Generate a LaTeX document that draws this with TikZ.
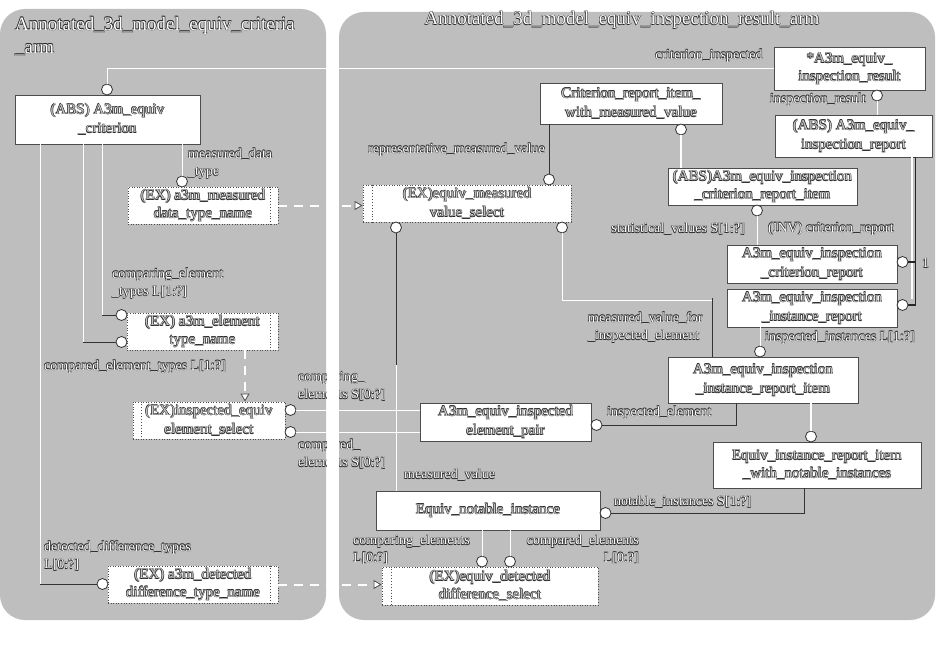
\documentclass[tikz,border=0pt]{standalone}
\usepackage{fontspec}
\setmainfont{Liberation Serif}
\usetikzlibrary{arrows.meta}
\definecolor{panel}{HTML}{BEBEBE}
\definecolor{shade}{HTML}{262626}
\newcommand\shd[3]{\rlap{\kern#1\raisebox{#2}{\textcolor{shade}{#3}}}}
\newcommand\embt[1]{\leavevmode\shd{-0.5pt}{0.5pt}{#1}\shd{-0.5pt}{-0.5pt}{#1}\shd{0.4pt}{0.4pt}{#1}\shd{0.4pt}{-0.4pt}{#1}#1}
\newcommand\bxfont{\fontsize{15}{18.5}\selectfont}
\newcommand\lbfont{\fontsize{14}{17.5}\selectfont}
\newcommand\ttlfont{\fontsize{19}{23}\selectfont}
\tikzset{
  ent/.style={rectangle, draw=black!70, line width=0.6pt, fill=white, text=black!22, font=\bxfont, align=center, inner sep=0pt},
  typ/.style={ent, dotted, line width=0.9pt},
  circ/.style={circle, draw=black!80, fill=white, line width=0.8pt, minimum size=11pt, inner sep=0pt},
  lab/.style={text=white, font=\lbfont, inner sep=0pt},
  ttl/.style={text=white, font=\ttlfont, inner sep=0pt},
  conn/.style={draw=white, line width=1pt},
  dconn/.style={draw=black!80, line width=1pt},
  thk/.style={draw=white, line width=2.6pt},
  dsh/.style={draw=white, line width=2pt, dash pattern=on 9pt off 7pt, -{Triangle[length=8pt, width=9pt, fill=white, color=black!70, line width=0.8pt]}},
  innerline/.style={draw=black!70, dotted, line width=0.9pt}
}
\begin{document}
\begin{tikzpicture}[x=1pt,y=-1pt]
\useasboundingbox (0,0) rectangle (936,658);
% panels
\fill[panel, rounded corners=25pt] (0,9) rectangle (326,620);
\fill[panel, rounded corners=25pt] (339,12) rectangle (935,620);
% titles
\node[ttl, anchor=west, align=left] (ttlA) at (15,36.5) {\embt{Annotated\_3d\_model\_equiv\_criteria}\\\embt{\_arm}};
\node[ttl] (ttlB) at (622,20) {\embt{Annotated\_3d\_model\_equiv\_inspection\_result\_arm}};
% entity boxes
\node[ent, minimum width=185pt, minimum height=49pt] (crit) at (107.5,119.5) {\embt{(ABS) A3m\_equiv}\\\embt{\_criterion}};
\node[ent, minimum width=151pt, minimum height=43pt] (insres) at (849.5,68.5) {\embt{*A3m\_equiv\_}\\\embt{inspection\_result}};
\node[ent, minimum width=157pt, minimum height=42pt] (insrep) at (853.5,136) {\embt{(ABS) A3m\_equiv\_}\\\embt{inspection\_report}};
\node[ent, minimum width=182pt, minimum height=41pt] (crwmv) at (631,103.5) {\embt{Criterion\_report\_item\_}\\\embt{with\_measured\_value}};
\node[ent, minimum width=189pt, minimum height=37pt] (cri) at (762.5,186.5) {\embt{(ABS)A3m\_equiv\_inspection}\\\embt{\_criterion\_report\_item}};
\node[ent, minimum width=170pt, minimum height=38pt] (crep) at (812,264) {\embt{A3m\_equiv\_inspection}\\\embt{\_criterion\_report}};
\node[ent, minimum width=170pt, minimum height=38pt] (irep) at (812,308) {\embt{A3m\_equiv\_inspection}\\\embt{\_instance\_report}};
\node[ent, minimum width=190pt, minimum height=46pt] (iri) at (763,380) {\embt{A3m\_equiv\_inspection}\\\embt{\_instance\_report\_item}};
\node[ent, minimum width=171pt, minimum height=38pt] (pair) at (505.5,422) {\embt{A3m\_equiv\_inspected}\\\embt{element\_pair}};
\node[ent, minimum width=208pt, minimum height=46pt] (iriwn) at (817,465) {\embt{Equiv\_instance\_report\_item}\\\embt{\_with\_notable\_instances}};
\node[ent, minimum width=224pt, minimum height=39pt] (notable) at (488,510.5) {\embt{Equiv\_notable\_instance}};
% type boxes
\node[typ, minimum width=150pt, minimum height=37pt] (mdt) at (203,205.5) {\embt{(EX) a3m\_measured}\\\embt{data\_type\_name}};
\node[typ, minimum width=151pt, minimum height=37pt] (et) at (202.5,331.5) {\embt{(EX) a3m\_element}\\\embt{type\_name}};
\node[typ, minimum width=152pt, minimum height=37pt] (ies) at (209,420.5) {\embt{(EX)inspected\_equiv}\\\embt{element\_select}};
\node[typ, minimum width=170pt, minimum height=37pt] (ddt) at (193,584.5) {\embt{(EX) a3m\_detected}\\\embt{difference\_type\_name}};
\node[typ, minimum width=208pt, minimum height=37pt] (mvs) at (467,203.5) {\embt{(EX)equiv\_measured}\\\embt{value\_select}};
\node[typ, minimum width=216pt, minimum height=38pt] (dds) at (490,586) {\embt{(EX)equiv\_detected}\\\embt{difference\_select}};
\draw[innerline] ([xshift=-8pt]mdt.north east) -- ([xshift=-8pt]mdt.south east);
\draw[innerline] ([xshift=-8pt]et.north east) -- ([xshift=-8pt]et.south east);
\draw[innerline] ([xshift=-8pt]ddt.north east) -- ([xshift=-8pt]ddt.south east);
\draw[innerline] ([xshift=9pt]ies.north west) -- ([xshift=9pt]ies.south west);
\draw[innerline] ([xshift=10pt]mvs.north west) -- ([xshift=10pt]mvs.south west);
\draw[innerline] ([xshift=10pt]dds.north west) -- ([xshift=10pt]dds.south west);
% circles
\node[circ] (c1) at (107,89.5) {};
\node[circ] (c2) at (182,181.5) {};
\node[circ] (c3) at (121.5,315) {};
\node[circ] (c4) at (121.5,342) {};
\node[circ] (c5) at (290.5,410) {};
\node[circ] (c6) at (290.5,432) {};
\node[circ] (c7) at (102.5,584) {};
\node[circ] (c8) at (549,179.5) {};
\node[circ] (c9) at (396,227.5) {};
\node[circ] (c10) at (562,227.5) {};
\node[circ] (c11) at (877,95.5) {};
\node[circ] (c12) at (681,129.5) {};
\node[circ] (c13) at (757,210.5) {};
\node[circ] (c14) at (902.5,262) {};
\node[circ] (c15) at (902.5,305) {};
\node[circ] (c16) at (760,351.5) {};
\node[circ] (c17) at (596.5,425) {};
\node[circ] (c18) at (811,436.5) {};
\node[circ] (c19) at (605.5,513) {};
\node[circ] (c20) at (482,561.5) {};
\node[circ] (c21) at (510,561.5) {};
% helper coordinates on box edges
\coordinate (k3) at ([xshift=-5.5pt]crit.south);
\coordinate (k4) at ([xshift=-24.5pt]crit.south);
\coordinate (k5) at ([xshift=-67.5pt]crit.south);
\coordinate (k7) at ([xshift=42.5pt]et.south);
\coordinate (k13) at ([xshift=-51pt]iri.north);
\coordinate (k17) at ([xshift=62pt]insrep.south);
\coordinate (k17w) at ([xshift=58.5pt]insrep.south);
\coordinate (k19) at ([xshift=-27pt]iri.south);
\coordinate (k21) at ([xshift=-13pt]iriwn.south);
% connectors
\draw[conn] (c1.north) |- (insres.west);
\draw[conn] (crit.south -| c2) -- (c2.north);
\draw[conn] (k3) -- (k3 |- c3.west);
\draw[dconn] (k3 |- c3.west) -- (c3.west);
\draw[conn] (k4) -- (k4 |- c4.west);
\draw[dconn] (k4 |- c4.west) -- (c4.west);
\draw[conn] (k5) -- (k5 |- c7.west);
\draw[dconn] (k5 |- c7.west) -- (c7.west);
\draw[dsh] (mdt.east) -- (mdt.east -| mvs.west);
\draw[dsh] (k7) -- (k7 |- ies.north);
\draw[dsh] (ddt.east) -- (ddt.east -| dds.west);
\draw[conn] (c5.east) -- (c5.east -| pair.west);
\draw[conn] (c6.east) -- (c6.east -| pair.west);
\draw[dconn] (crwmv.south -| c8) -- (c8.north);
\draw[conn] (c9.south) -- (c9.south |- notable.north);
\draw[dconn] (c9.south) -- ++(0,132);
\draw[conn] (c10.south) -- ++(0,67) -| (k13);
\draw[dconn] (k13) -- ++(0,-59);
\draw[conn] (c11.south) -- (c11.south |- insrep.north);
\draw[thk] (cri.north -| c12) -- (c12.south);
\draw[conn] (c13.south) -- (c13.south |- crep.north);
\draw[draw=white, line width=1.5pt] (k17w) -- (k17w |- c15.north);
\draw[draw=black!85, line width=1.8pt] (k17) |- (c15.east);
\draw[draw=black!85, line width=1.8pt] (k17 |- c14.east) -- (c14.east);
\draw[conn] (irep.south -| c16) -- (c16.north);
\draw[dconn] (k19) |- (c17.east);
\draw[thk] (iri.south -| c18) -- (c18.north);
\draw[dconn] (k21) |- (c19.east);
\draw[conn] (notable.south -| c20) -- (c20.north);
\draw[conn] (notable.south -| c21) -- (c21.north);
% labels
\node[lab] (l1) at (709,56) {\embt{criterion\_inspected}};
\node[lab, anchor=west, align=left] (l2) at (188,163.5) {\embt{measured\_data}\\\embt{\_type}};
\node[lab, anchor=west, align=left] (l3) at (112,283.5) {\embt{comparing\_element}\\\embt{\_types L[1:?]}};
\node[lab, anchor=west] (l4) at (44,367) {\embt{compared\_element\_types L[1:?]}};
\node[lab, anchor=west, align=left] (l5) at (44,556) {\embt{detected\_difference\_types}\\\embt{L[0:?]}};
\node[lab, anchor=west, align=left] (l6) at (298,386.5) {\embt{comparing\_}\\\embt{elements S[0:?]}};
\node[lab, anchor=west, align=left] (l7) at (298,454) {\embt{compared\_}\\\embt{elements S[0:?]}};
\node[lab, anchor=east] (l8) at (545,150) {\embt{representative\_measured\_value}};
\node[lab, anchor=west] (l9) at (404,475) {\embt{measured\_value}};
\node[lab, anchor=west, align=left] (l10) at (588,327.5) {\embt{measured\_value\_for}\\\embt{\_inspected\_element}};
\node[lab, anchor=east] (l11) at (866,100) {\embt{inspection\_result}};
\node[lab, anchor=east] (l12) at (745,229) {\embt{statistical\_values S[1:?]}};
\node[lab, anchor=west] (l13) at (768,229) {\embt{(INV) criterion\_report}};
\node[lab, anchor=west] (l14) at (922,263) {\embt{1}};
\node[lab, anchor=west] (l15) at (765,338) {\embt{inspected\_instances L[1:?]}};
\node[lab, anchor=west] (l16) at (607,413) {\embt{inspected\_element}};
\node[lab, anchor=west] (l17) at (614,502) {\embt{notable\_instances S[1:?]}};
\node[lab, anchor=west, align=left] (l18) at (353,549.5) {\embt{comparing\_elements}\\\embt{L[0:?]}};
\node[lab, anchor=east, align=right] (l19) at (639,549.5) {\embt{compared\_elements}\\\embt{L[0:?]}};
% gap between the panels
\fill[white] (326.5,0) rectangle (338.5,658);
\end{tikzpicture}
\end{document}
